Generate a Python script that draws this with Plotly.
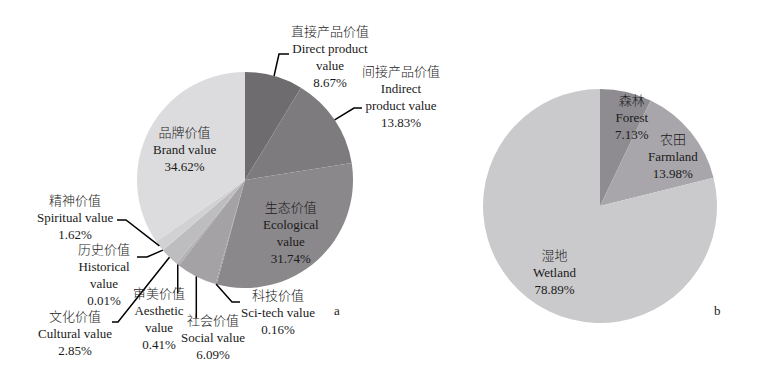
import math
import plotly.graph_objects as go

W, H = 771, 366

# ---- data: chart a ----
a_cn = ["直接产品价值", "间接产品价值", "生态价值", "科技价值", "社会价值",
        "审美价值", "文化价值", "历史价值", "精神价值", "品牌价值"]
a_en = ["Direct product<br>value", "Indirect<br>product value", "Ecological<br>value",
        "Sci-tech value", "Social value", "Aesthetic<br>value", "Cultural value",
        "Historical<br>value", "Spiritual value", "Brand value"]
a_values = [8.67, 13.83, 31.74, 0.16, 6.09, 0.41, 2.85, 0.01, 1.62, 34.62]
a_colors = ["#6f6c70", "#7e7b7f", "#8b888c", "#9a989b", "#a4a2a5",
            "#b1afb2", "#bdbcbf", "#c7c6c9", "#d1d0d3", "#dcdcde"]

# ---- data: chart b ----
b_cn = ["森林", "农田", "湿地"]
b_en = ["Forest", "Farmland", "Wetland"]
b_values = [7.13, 13.98, 78.89]
b_colors = ["#8e8c90", "#a8a6aa", "#cacacc"]

# ---- layout (pixel geometry) ----
A_CX, A_CY, A_R = 245, 180, 108
B_CX, B_CY, B_R = 600, 206, 117

# label centres (px) per slice
a_label_pos = [(330, 57), (401, 97), (291, 233), (278, 312), (213, 337),
               (159, 319), (75, 333), (104, 275), (75, 217), (184, 149)]
# leader line points after the rim anchor (px); None = inside label
a_leaders = [[(279, 54), (289, 54)],
             [(354, 108), (362, 108)],
             None,
             [(232, 302), (240, 302)],
             ["v", 318],
             ["v", 293],
             [(118, 322), (112, 322)],
             [(147, 257), (137, 257)],
             [(126, 220), (117, 220)],
             None]
b_label_pos = [(632, 117), (673, 157), (554, 272)]

FONT = "Liberation Serif, Times New Roman, Noto Sans CJK SC, serif"
TXT = dict(family=FONT, size=13, color="#1a1a1a", weight=300)


def px(x):
    return x / W


def py(y):
    return 1 - y / H


def domain(cx, cy, r):
    return dict(x=[px(cx - r), px(cx + r)], y=[py(cy + r), py(cy - r)])


fig = go.Figure()
fig.add_trace(go.Pie(values=a_values, labels=a_cn, sort=False, direction="clockwise",
                     rotation=0, textinfo="none", hoverinfo="none",
                     marker=dict(colors=a_colors, line=dict(width=0)),
                     domain=domain(A_CX, A_CY, A_R), showlegend=False))
fig.add_trace(go.Pie(values=b_values, labels=b_cn, sort=False, direction="clockwise",
                     rotation=0, textinfo="none", hoverinfo="none",
                     marker=dict(colors=b_colors, line=dict(width=0)),
                     domain=domain(B_CX, B_CY, B_R), showlegend=False))

annotations = []
shapes = []


def rim_point(values, i, cx, cy, r):
    tot = sum(values)
    cum = sum(values[:i]) + values[i] / 2
    ang = cum / tot * 2 * math.pi
    return cx + r * math.sin(ang), cy - r * math.cos(ang)


for i, v in enumerate(a_values):
    x, y = a_label_pos[i]
    txt = f"{a_cn[i]}<br>{a_en[i]}<br>{v:.2f}%"
    annotations.append(dict(x=px(x), y=py(y), xref="paper", yref="paper", text=txt,
                            showarrow=False, xanchor="center", yanchor="middle",
                            font=TXT))
    ld = a_leaders[i]
    if ld is None:
        continue
    ax, ay = rim_point(a_values, i, A_CX, A_CY, A_R)
    if ld[0] == "v":
        pts = [(ax, ay), (ax, ld[1])]
    else:
        pts = [(ax, ay)] + ld
    path = "M " + " L ".join(f"{px(p[0])},{py(p[1])}" for p in pts)
    shapes.append(dict(type="path", path=path, xref="paper", yref="paper",
                       line=dict(color="black", width=1.5)))

for i, v in enumerate(b_values):
    x, y = b_label_pos[i]
    txt = f"{b_cn[i]}<br>{b_en[i]}<br>{v:.2f}%"
    annotations.append(dict(x=px(x), y=py(y), xref="paper", yref="paper", text=txt,
                            showarrow=False, xanchor="center", yanchor="middle",
                            font=TXT))

annotations.append(dict(x=px(337), y=py(320), xref="paper", yref="paper", text="a",
                        showarrow=False, font=TXT))
annotations.append(dict(x=px(723), y=py(320), xref="paper", yref="paper", text="b",
                        showarrow=False, font=TXT))

fig.update_layout(width=W, height=H, margin=dict(l=0, r=0, t=0, b=0),
                  paper_bgcolor="white", plot_bgcolor="white",
                  annotations=annotations, shapes=shapes)

fig.write_html("out.html", config={"displayModeBar": False},
               post_script="document.body.style.margin='0';")
